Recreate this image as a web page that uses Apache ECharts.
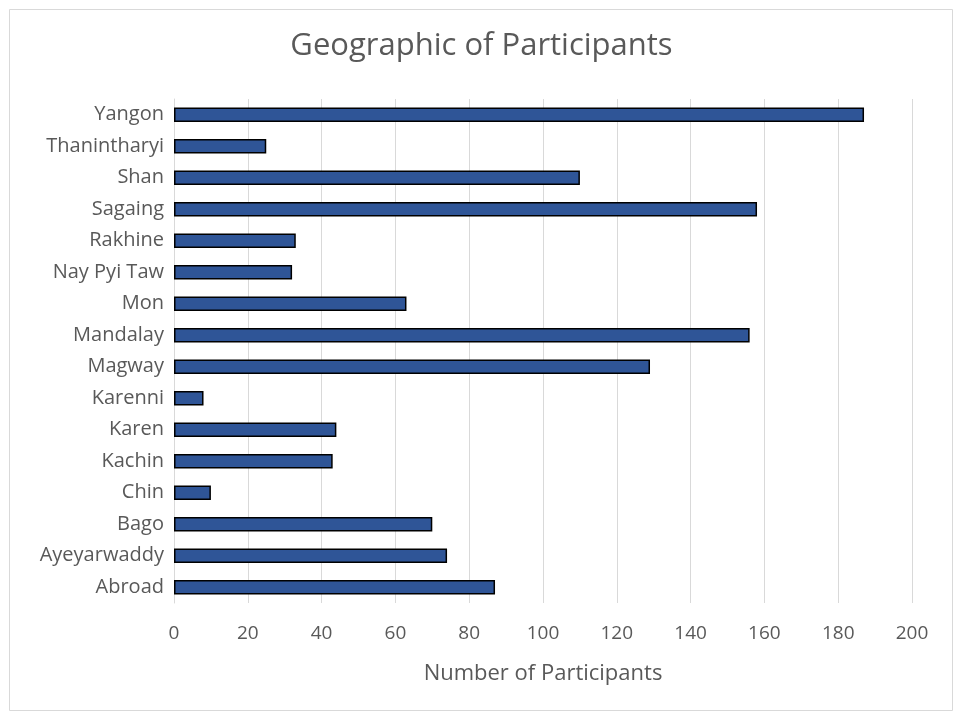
<!DOCTYPE html>
<html><head><meta charset="utf-8">
<script src="https://cdn.jsdelivr.net/npm/echarts@6/dist/echarts.min.js"></script>
<style>html,body{margin:0;padding:0;background:#fff}#c{width:963px;height:721px}</style>
</head><body><div id="c"></div>
<script>
const categories = ["Abroad","Ayeyarwaddy","Bago","Chin","Kachin","Karen","Karenni","Magway","Mandalay","Mon","Nay Pyi Taw","Rakhine","Sagaing","Shan","Thanintharyi","Yangon"];
const values = [87,74,70,10,43,44,8,129,156,63,32,33,158,110,25,187];
const xTicks = [0,20,40,60,80,100,120,140,160,180,200];
const chart = echarts.init(document.getElementById('c'));
const font = '"Open Sans", "Liberation Sans", sans-serif';
chart.setOption({
  backgroundColor:'#fff',
  graphic:[{type:'rect',shape:{x:9.5,y:9.5,width:943,height:701},style:{fill:'none',stroke:'#d9d9d9',lineWidth:1}}],
  title:{text:'Geographic of Participants',left:'center',top:26,textStyle:{fontFamily:font,fontSize:31,fontWeight:'normal',color:'#595959'}},
  grid:{left:174,right:51,top:99,bottom:118,containLabel:false},
  xAxis:{type:'value',min:xTicks[0],max:xTicks[xTicks.length-1],interval:20,
    name:'Number of Participants',nameLocation:'middle',nameGap:60,
    nameTextStyle:{fontFamily:font,fontSize:22,color:'#595959'},
    axisLine:{show:false},axisTick:{show:false},
    axisLabel:{fontFamily:font,fontSize:19,color:'#595959',margin:21},
    splitLine:{lineStyle:{color:'#d9d9d9',width:1}}},
  yAxis:{type:'category',data:categories,
    axisLine:{show:true,lineStyle:{color:'#d9d9d9'}},axisTick:{show:false},
    axisLabel:{fontFamily:font,fontSize:20,color:'#595959',margin:10}},
  series:[{type:'bar',data:values,barWidth:'46%',
    itemStyle:{color:'#2F5597',borderColor:'#000',borderWidth:1.5},silent:true}]
});
</script></body></html>
